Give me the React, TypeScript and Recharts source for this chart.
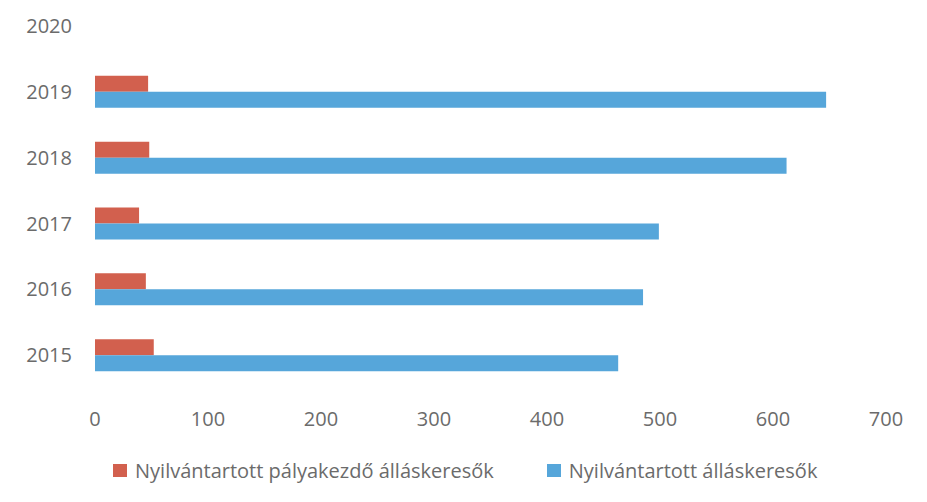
import React from 'react';
import { BarChart, Bar, XAxis, YAxis } from 'recharts';

const years = ['2015', '2016', '2017', '2018', '2019', '2020'];
const starters = [52, 45, 39, 48, 47, null];
const seekers = [463, 485, 499, 612, 647, null];
const xTicks = [0, 100, 200, 300, 400, 500, 600, 700];

const seriesNames = ['Nyilvántartott pályakezdő álláskeresők', 'Nyilvántartott álláskeresők'];
const seriesColors = ['#D2604E', '#56A6DA'];

const data = years.map((year, i) => ({
    year,
    starters: starters[i],
    seekers: seekers[i],
}));

const textColor = '#6b6b6b';
const font = '"Open Sans", sans-serif';

export default function App() {
    return (
        <div style={{ position: 'absolute', left: 0, top: 0, width: 927, height: 502, overflow: 'hidden', background: '#fff', fontFamily: font }}>
            <div style={{ position: 'relative', top: -7 }}>
                <BarChart
                    width={927}
                    height={509}
                    data={data}
                    layout="vertical"
                    margin={{ top: 0, right: 41, left: 0, bottom: 74 }}
                    barGap={0}
                >
                    <XAxis
                        type="number"
                        domain={[0, 700]}
                        ticks={xTicks}
                        height={40}
                        axisLine={false}
                        tickLine={false}
                        tickSize={0}
                        tickMargin={24}
                        tick={{ fontSize: 20, fill: textColor, fontFamily: font }}
                    />
                    <YAxis
                        type="category"
                        dataKey="year"
                        reversed
                        width={95}
                        axisLine={false}
                        tickLine={false}
                        tickSize={0}
                        tickMargin={23}
                        tick={{ fontSize: 20, fill: textColor, fontFamily: font }}
                    />
                    <Bar dataKey="starters" name={seriesNames[0]} fill={seriesColors[0]} barSize={16} isAnimationActive={false} />
                    <Bar dataKey="seekers" name={seriesNames[1]} fill={seriesColors[1]} barSize={16} isAnimationActive={false} />
                </BarChart>
            </div>
            <div style={{ position: 'absolute', left: 113, top: 457, display: 'flex', alignItems: 'center', fontSize: 20, color: textColor }}>
                {seriesNames.map((name, i) => (
                    <div key={name} style={{ display: 'flex', alignItems: 'center', marginRight: i === 0 ? 53 : 0 }}>
                        <span style={{ width: 14, height: 13, background: seriesColors[i], display: 'inline-block', marginRight: 8 }} />
                        <span>{name}</span>
                    </div>
                ))}
            </div>
        </div>
    );
}
